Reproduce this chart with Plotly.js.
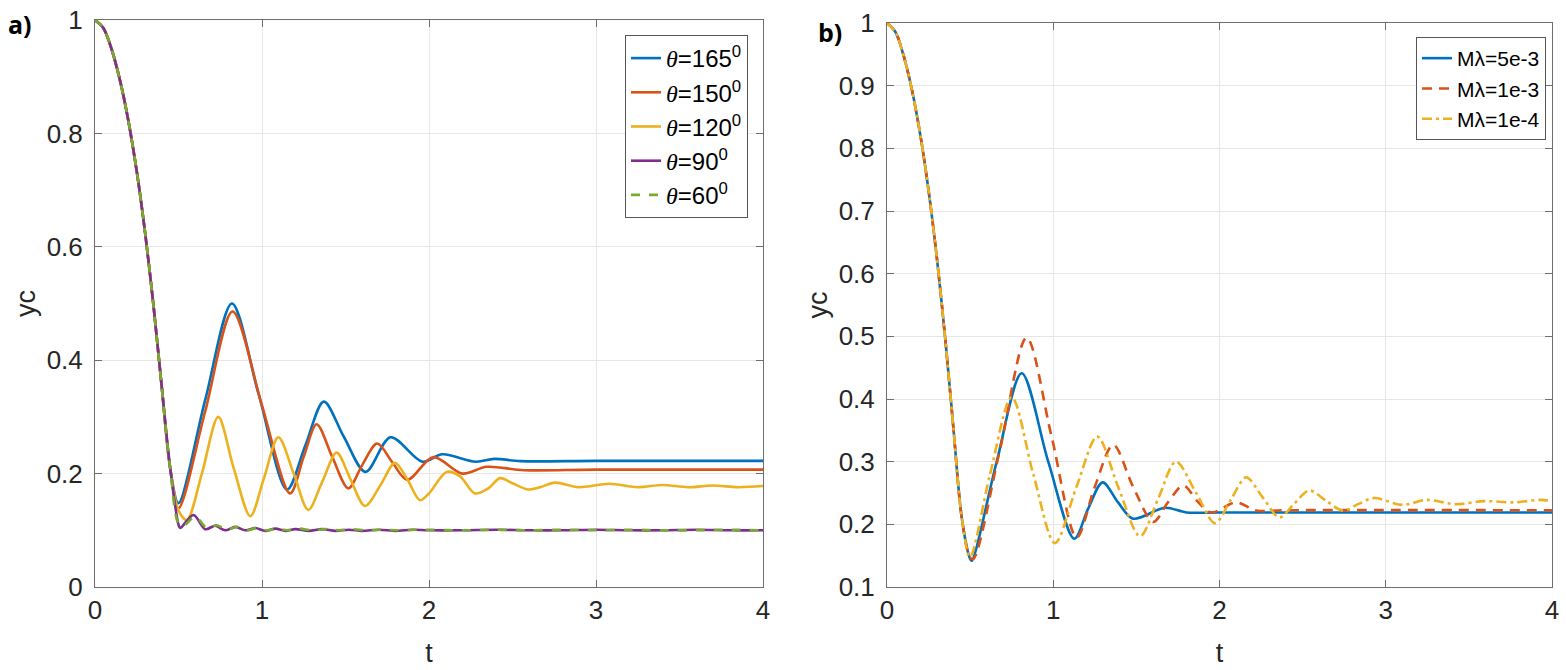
<!DOCTYPE html>
<html>
<head>
<meta charset="utf-8">
<script src="https://cdn.plot.ly/plotly-3.0.1.min.js"></script>
<style>html,body{margin:0;padding:0;background:#fff;}#chart{width:1566px;height:670px;}</style>
</head>
<body>
<div id="chart"></div>
<script>
// ---- common initial decay (both panels) ----
var decayT = [0, 0.05, 0.1, 0.15, 0.2, 0.25, 0.3, 0.35, 0.4, 0.45];
var decayY = [1, 0.986, 0.948, 0.893, 0.822, 0.733, 0.625, 0.497, 0.352, 0.21];

// ---- panel a) ----
var t165 = [0.5, 0.66, 0.82, 0.98, 1.15, 1.26, 1.37, 1.49, 1.62, 1.77, 1.96, 2.08, 2.28, 2.39, 2.55, 3.0, 4.0];
var y165 = [0.148, 0.33, 0.50, 0.34, 0.172, 0.25, 0.327, 0.265, 0.203, 0.264, 0.221, 0.234, 0.221, 0.226, 0.222, 0.2225, 0.2225];

var t150 = [0.5, 0.66, 0.824, 1.0, 1.168, 1.25, 1.327, 1.42, 1.517, 1.6, 1.69, 1.78, 1.87, 2.026, 2.2, 2.345, 2.57, 3.0, 4.0];
var y150 = [0.139, 0.31, 0.486, 0.32, 0.165, 0.23, 0.287, 0.23, 0.174, 0.215, 0.253, 0.22, 0.189, 0.229, 0.2, 0.212, 0.206, 0.207, 0.207];

var t120 = [0.5, 0.55, 0.64, 0.738, 0.83, 0.93, 1.01, 1.098, 1.19, 1.277, 1.36, 1.447, 1.53, 1.617, 1.71, 1.796, 1.87, 1.946, 2.0, 2.106, 2.186, 2.275, 2.355, 2.425, 2.5, 2.595, 2.665, 2.755, 2.895, 3.08, 3.25, 3.4, 3.55, 3.7, 3.85, 4.0];
var y120 = [0.135, 0.118, 0.2, 0.300, 0.21, 0.125, 0.19, 0.264, 0.2, 0.136, 0.185, 0.237, 0.19, 0.143, 0.18, 0.219, 0.19, 0.153, 0.165, 0.203, 0.195, 0.165, 0.174, 0.192, 0.183, 0.172, 0.176, 0.184, 0.176, 0.182, 0.176, 0.18, 0.176, 0.179, 0.176, 0.178];

var t90 = [0.5, 0.51, 0.59, 0.66, 0.72, 0.78, 0.84, 0.9, 0.96, 1.02, 1.08, 1.14, 1.2, 1.28, 1.36, 1.44, 1.52, 1.6, 1.7, 1.8, 1.9, 2.0, 2.2, 2.4, 2.6, 2.8, 3.0, 3.2, 3.4, 3.6, 3.8, 4.0];
var y90 = [0.11, 0.104, 0.127, 0.102, 0.108, 0.1, 0.106, 0.1, 0.104, 0.099, 0.103, 0.099, 0.102, 0.099, 0.102, 0.099, 0.101, 0.099, 0.101, 0.099, 0.101, 0.1, 0.1, 0.101, 0.1, 0.1, 0.101, 0.1, 0.1, 0.101, 0.1, 0.1];

var t60 = [0.5, 0.53, 0.6, 0.67, 0.73, 0.79, 0.85, 0.91, 0.97, 1.03, 1.09, 1.15, 1.22, 1.3, 1.38, 1.46, 1.54, 1.62, 1.72, 1.82, 1.92, 2.0, 2.2, 2.4, 2.6, 2.8, 3.0, 3.2, 3.4, 3.6, 3.8, 4.0];
var y60 = [0.112, 0.108, 0.124, 0.104, 0.109, 0.101, 0.106, 0.1, 0.104, 0.1, 0.103, 0.1, 0.103, 0.1, 0.102, 0.1, 0.102, 0.1, 0.101, 0.1, 0.101, 0.101, 0.1, 0.101, 0.1, 0.101, 0.1, 0.101, 0.1, 0.1, 0.101, 0.1];

// ---- panel b) ----
var tA = [0.5, 0.51, 0.66, 0.81, 0.97, 1.127, 1.21, 1.297, 1.39, 1.48, 1.672, 1.8, 2.0, 4.0];
var yA = [0.145, 0.142, 0.3, 0.441, 0.3, 0.177, 0.225, 0.267, 0.235, 0.209, 0.2265, 0.219, 0.219, 0.219];

var tB = [0.5, 0.52, 0.68, 0.84, 0.99, 1.141, 1.25, 1.361, 1.48, 1.602, 1.69, 1.782, 1.87, 1.95, 2.1, 2.22, 2.4, 4.0];
var yB = [0.147, 0.145, 0.32, 0.498, 0.34, 0.179, 0.26, 0.327, 0.26, 0.204, 0.235, 0.262, 0.236, 0.219, 0.235, 0.222, 0.2225, 0.2225];

var tC = [0.499, 0.62, 0.75, 0.88, 1.01, 1.14, 1.265, 1.39, 1.522, 1.63, 1.738, 1.86, 1.973, 2.07, 2.16, 2.26, 2.36, 2.45, 2.54, 2.64, 2.74, 2.84, 2.93, 3.1, 3.246, 3.42, 3.59, 3.77, 3.93, 4.0];
var yC = [0.148, 0.28, 0.403, 0.28, 0.170, 0.26, 0.340, 0.26, 0.181, 0.24, 0.300, 0.25, 0.202, 0.24, 0.275, 0.243, 0.211, 0.233, 0.254, 0.238, 0.222, 0.233, 0.242, 0.231, 0.239, 0.232, 0.237, 0.235, 0.239, 0.237];

var TH = '<i><span style="font-family:Liberation Serif">θ</span></i>';
var namesA = [TH + '=165<sup>0</sup>', TH + '=150<sup>0</sup>', TH + '=120<sup>0</sup>', TH + '=90<sup>0</sup>', TH + '=60<sup>0</sup>'];
var namesB = ['Mλ=5e-3', 'Mλ=1e-3', 'Mλ=1e-4'];
var xTicks = [0, 1, 2, 3, 4];
var yTicksA = [0, 0.2, 0.4, 0.6, 0.8, 1];
var yTicksB = [0.1, 0.2, 0.3, 0.4, 0.5, 0.6, 0.7, 0.8, 0.9, 1];

var C = ['#0072BD', '#D95319', '#EDB120', '#7E2F8E', '#77AC30'];

function full(t, y) { return {x: decayT.concat(t), y: decayY.concat(y)}; }

function tr(t, y, name, color, dash, xa, ya, leg, grp) {
  var d = full(t, y);
  return {x: d.x, y: d.y, name: name, type: 'scatter', mode: 'lines',
    line: {color: color, width: 2.6, dash: dash, shape: 'spline', smoothing: 0.9},
    xaxis: xa, yaxis: ya, legend: leg, legendgroup: grp, hoverinfo: 'skip'};
}

var data = [
  tr(t165, y165, namesA[0], C[0], 'solid', 'x', 'y', 'legend', 'a0'),
  tr(t150, y150, namesA[1], C[1], 'solid', 'x', 'y', 'legend', 'a1'),
  tr(t120, y120, namesA[2], C[2], 'solid', 'x', 'y', 'legend', 'a2'),
  tr(t90, y90, namesA[3], C[3], 'solid', 'x', 'y', 'legend', 'a3'),
  tr(t60, y60, namesA[4], C[4], 'dash', 'x', 'y', 'legend', 'a4'),
  tr(tA, yA, namesB[0], C[0], 'solid', 'x2', 'y2', 'legend2', 'b0'),
  tr(tB, yB, namesB[1], C[1], '10px,7px', 'x2', 'y2', 'legend2', 'b1'),
  tr(tC, yC, namesB[2], C[2], '10px,4px,3px,4px', 'x2', 'y2', 'legend2', 'b2')
];

var tickFont = {family: 'Liberation Sans, Arial, sans-serif', size: 26, color: '#262626'};
var titleFont = {family: 'Liberation Sans, Arial, sans-serif', size: 27, color: '#262626'};

function xax(domain, anchor) {
  return {domain: domain, anchor: anchor, range: [0, 4], tickvals: xTicks, ticktext: xTicks.map(String),
    showgrid: true, gridcolor: '#e6e6e6', gridwidth: 1, zeroline: false,
    showline: true, linecolor: '#6e6e6e', linewidth: 1, mirror: 'ticks',
    ticks: 'inside', ticklen: 7, tickcolor: '#6e6e6e', tickfont: tickFont,
    title: {text: 't', font: titleFont, standoff: 18}, automargin: false};
}
function yax(domain, anchor, range, vals) {
  return {domain: domain, anchor: anchor, range: range, tickvals: vals, ticktext: vals.map(String),
    showgrid: true, gridcolor: '#e6e6e6', gridwidth: 1, zeroline: false,
    showline: true, linecolor: '#6e6e6e', linewidth: 1, mirror: 'ticks',
    ticks: 'inside', ticklen: 7, tickcolor: '#6e6e6e', tickfont: tickFont, ticklabelstandoff: 6,
    title: {text: 'yc', font: titleFont, standoff: 3}, automargin: false};
}

var legFont = {family: 'Liberation Sans, Arial, sans-serif', size: 24, color: '#000'};

var layout = {
  width: 1566, height: 670,
  margin: {l: 0, r: 0, t: 0, b: 0},
  paper_bgcolor: '#fff', plot_bgcolor: '#fff',
  showlegend: true,
  xaxis: xax([95/1566, 763/1566], 'y'),
  yaxis: yax([83/670, 650/670], 'x', [0, 1], yTicksA),
  xaxis2: xax([887/1566, 1552/1566], 'y2'),
  yaxis2: yax([83/670, 647/670], 'x2', [0.1, 1], yTicksB),
  legend: {x: 748/1566, y: (670-35)/670, xanchor: 'right', yanchor: 'top',
    bgcolor: '#fff', bordercolor: '#555', borderwidth: 1, font: legFont,
    tracegroupgap: 10, traceorder: 'normal'},
  legend2: {x: 1546/1566, y: (670-37)/670, xanchor: 'right', yanchor: 'top',
    bgcolor: '#fff', bordercolor: '#555', borderwidth: 1, font: {family: legFont.family, size: 21, color: '#000'},
    tracegroupgap: 0, traceorder: 'normal'},
  annotations: [
    {text: '<b>a)</b>', x: 6/1566, y: (670-24)/670, xref: 'paper', yref: 'paper', xanchor: 'left', yanchor: 'middle',
      showarrow: false, font: {family: 'Open Sans, sans-serif', size: 25, color: '#000'}},
    {text: '<b>b)</b>', x: 816/1566, y: (670-32)/670, xref: 'paper', yref: 'paper', xanchor: 'left', yanchor: 'middle',
      showarrow: false, font: {family: 'Open Sans, sans-serif', size: 25, color: '#000'}}
  ]
};

Plotly.newPlot('chart', data, layout, {displayModeBar: false, staticPlot: true});
</script>
</body>
</html>
